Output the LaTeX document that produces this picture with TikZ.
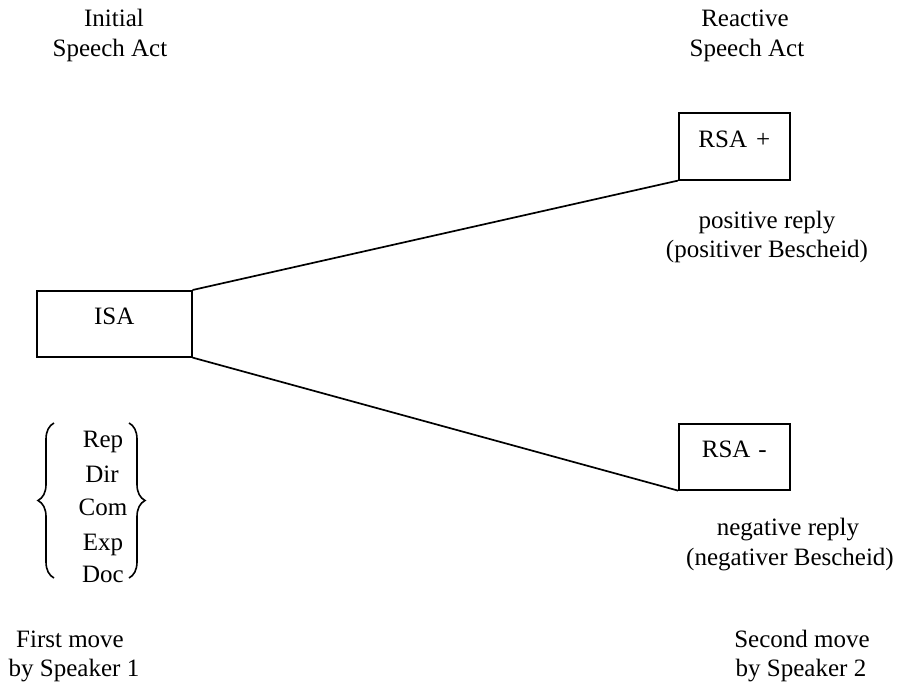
\documentclass[tikz,border=0pt]{standalone}
\usepackage{fontspec}
\setmainfont{Liberation Serif}
\usetikzlibrary{decorations.pathreplacing}
\begin{document}
\begin{tikzpicture}[x=1pt,y=-1pt,
  lbl/.style={anchor=base,inner sep=0pt,font=\fontsize{25}{29}\selectfont},
  boxnode/.style={draw,line width=1.6pt,inner xsep=0pt,inner ysep=0pt,anchor=north west,
     font=\fontsize{25}{29}\selectfont},
  conn/.style={line width=1.7pt},
  bracestyle/.style={line width=1.6pt,decorate,decoration={brace,amplitude=16pt}}]
\useasboundingbox (0,0) rectangle (900,685);
% headings
\node[lbl] (h1a) at (114,27) {Initial};
\node[lbl] (h1b) at (110,57) {Speech Act};
\node[lbl] (h2a) at (745,27) {Reactive};
\node[lbl] (h2b) at (747,57) {Speech Act};
% boxes
\node[boxnode,minimum width=155pt,text height=34pt,text depth=32pt] (isa) at (36,290) {ISA};
\node[boxnode,minimum width=111pt,text height=35pt,text depth=32pt] (rsap) at (678,112) {RSA\hspace{9pt}+};
\node[boxnode,minimum width=111pt,text height=34pt,text depth=32pt] (rsam) at (678,423) {RSA\hspace{8pt}-};
% connectors
\draw[conn] (isa.north east) -- (rsap.south west);
\draw[conn] (isa.south east) -- (rsam.south west);
% reply labels
\node[lbl] (pr1) at (767,228) {positive reply};
\node[lbl] (pr2) at (767,257) {(positiver Bescheid)};
\node[lbl] (nr1) at (788,535) {negative reply};
\node[lbl] (nr2) at (790,565) {(negativer Bescheid)};
% speech act classes
\node[lbl] (c1) at (103,447) {Rep};
\node[lbl] (c2) at (102,482) {Dir};
\node[lbl] (c3) at (103,515) {Com};
\node[lbl] (c4) at (103,550) {Exp};
\node[lbl] (c5) at (103,582) {Doc};
\coordinate (lb1) at (54,578);
\coordinate (lb2) at (54,423);
\coordinate (rb1) at (129,423);
\coordinate (rb2) at (129,578);
\draw[bracestyle] (lb1) -- (lb2);
\draw[bracestyle] (rb1) -- (rb2);
% moves
\node[lbl] (m1a) at (70,647) {First move};
\node[lbl] (m1b) at (74,676) {by Speaker 1};
\node[lbl] (m2a) at (802,647) {Second move};
\node[lbl] (m2b) at (801,676) {by Speaker 2};
\end{tikzpicture}
\end{document}
